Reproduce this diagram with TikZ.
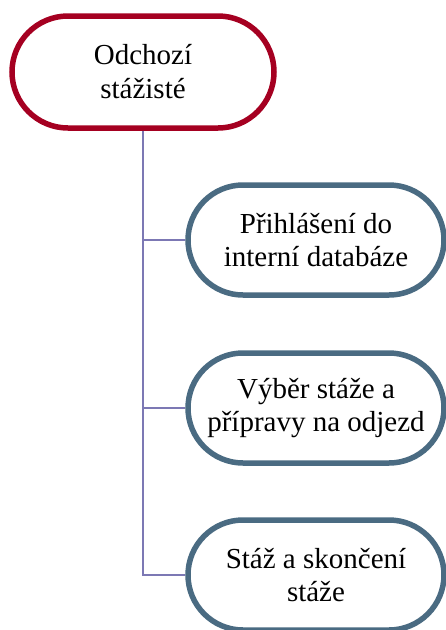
\documentclass[tikz,border=0pt]{standalone}
\usepackage{fontspec}
\setmainfont{Liberation Serif}
\newfontfamily\timesf{Liberation Serif}
\definecolor{topred}{HTML}{A50021}
\definecolor{childblue}{HTML}{4A6B82}
\definecolor{linkc}{HTML}{7C78B4}
\begin{document}
\begin{tikzpicture}[x=1pt,y=1pt,
  topbox/.style={draw=topred,line width=5.5pt,fill=white,rounded corners=56pt,
    minimum width=262pt,minimum height=112pt,align=center,inner sep=0pt,
    font=\timesf\fontsize{29}{34}\selectfont},
  childbox/.style={draw=childblue,line width=5.5pt,fill=white,rounded corners=55pt,
    minimum width=256pt,minimum height=110pt,align=center,inner sep=0pt,
    font=\timesf\fontsize{29}{33}\selectfont},
  link/.style={draw=linkc,line width=1.4pt}]
\useasboundingbox (0,0) rectangle (446,-630);
\node[topbox] (top) at (143,-72) {Odchozí\\stážisté};
\node[childbox] (c1) at (316,-240) {Přihlášení do\\interní databáze};
\node[childbox] (c2) at (316,-408) {Výběr stáže a\\přípravy na odjezd};
\node[childbox] (c3) at (316,-575) {Stáž a skončení\\stáže};
\draw[link] (top.south) |- (c3.west);
\draw[link] (top.south) |- (c2.west);
\draw[link] (top.south) |- (c1.west);
\end{tikzpicture}
\end{document}
